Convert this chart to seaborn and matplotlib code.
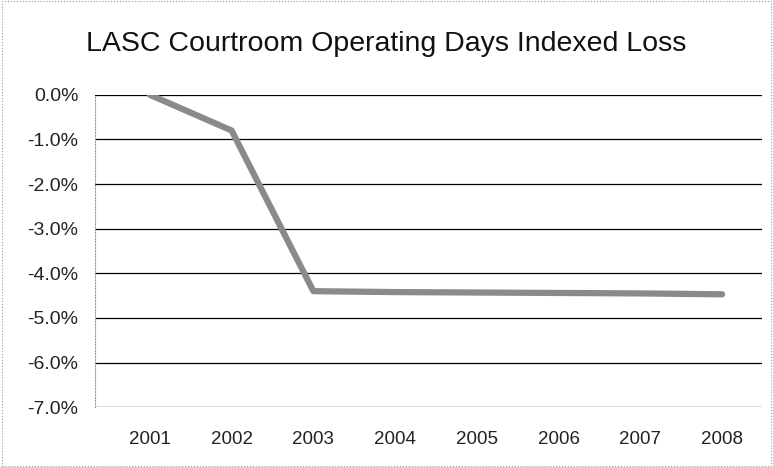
import pandas as pd
import matplotlib.pyplot as plt
import matplotlib.ticker as mticker
from matplotlib.patches import Rectangle
import seaborn as sns

sns.set_style("white")
plt.rcParams['font.family'] = ['Liberation Sans', 'DejaVu Sans']

years = ["2001", "2002", "2003", "2004", "2005", "2006", "2007", "2008"]
loss = [0.0, -0.8, -4.4, -4.42, -4.43, -4.44, -4.45, -4.47]
yticks = [0, -1, -2, -3, -4, -5, -6, -7]

df = pd.DataFrame({"year": years, "loss": loss})

fig = plt.figure(figsize=(7.73, 4.67), dpi=100)
ax = fig.add_axes([0.123, 0.128, 0.863, 0.669])

sns.lineplot(data=df, x="year", y="loss", ax=ax, color="#8a8a8a", linewidth=4.5, sort=False)

ax.set_ylim(-7, 0)
ax.set_xlim(-0.67, 7.49)
ax.set_yticks(yticks)
ax.yaxis.set_major_formatter(mticker.FuncFormatter(lambda v, p: f"{v:.1f}%"))
ax.grid(axis="y", color="black", linewidth=0.9)
ax.grid(axis="x", visible=False)
ax.set_axisbelow(True)
for s in ["top", "right", "bottom"]:
    ax.spines[s].set_visible(False)
ax.spines["left"].set_linestyle(":")
ax.spines["left"].set_color("#999999")
ax.spines["left"].set_linewidth(0.8)
ax.tick_params(axis="y", labelsize=14, length=0, pad=12, colors="#222222")
ax.tick_params(axis="x", labelsize=13.5, length=0, pad=17, colors="#222222")
ax.set_xlabel("")
ax.set_ylabel("")

fig.text(0.5, 0.905, "LASC Courtroom Operating Days Indexed Loss", ha="center", va="center",
         fontsize=20.5, color="#111111")
fig.patches.append(Rectangle((0.003, 0.003), 0.994, 0.994, transform=fig.transFigure,
                             fill=False, edgecolor="#999999", linestyle=":", linewidth=0.8))

fig.savefig("out.png", dpi=100)
